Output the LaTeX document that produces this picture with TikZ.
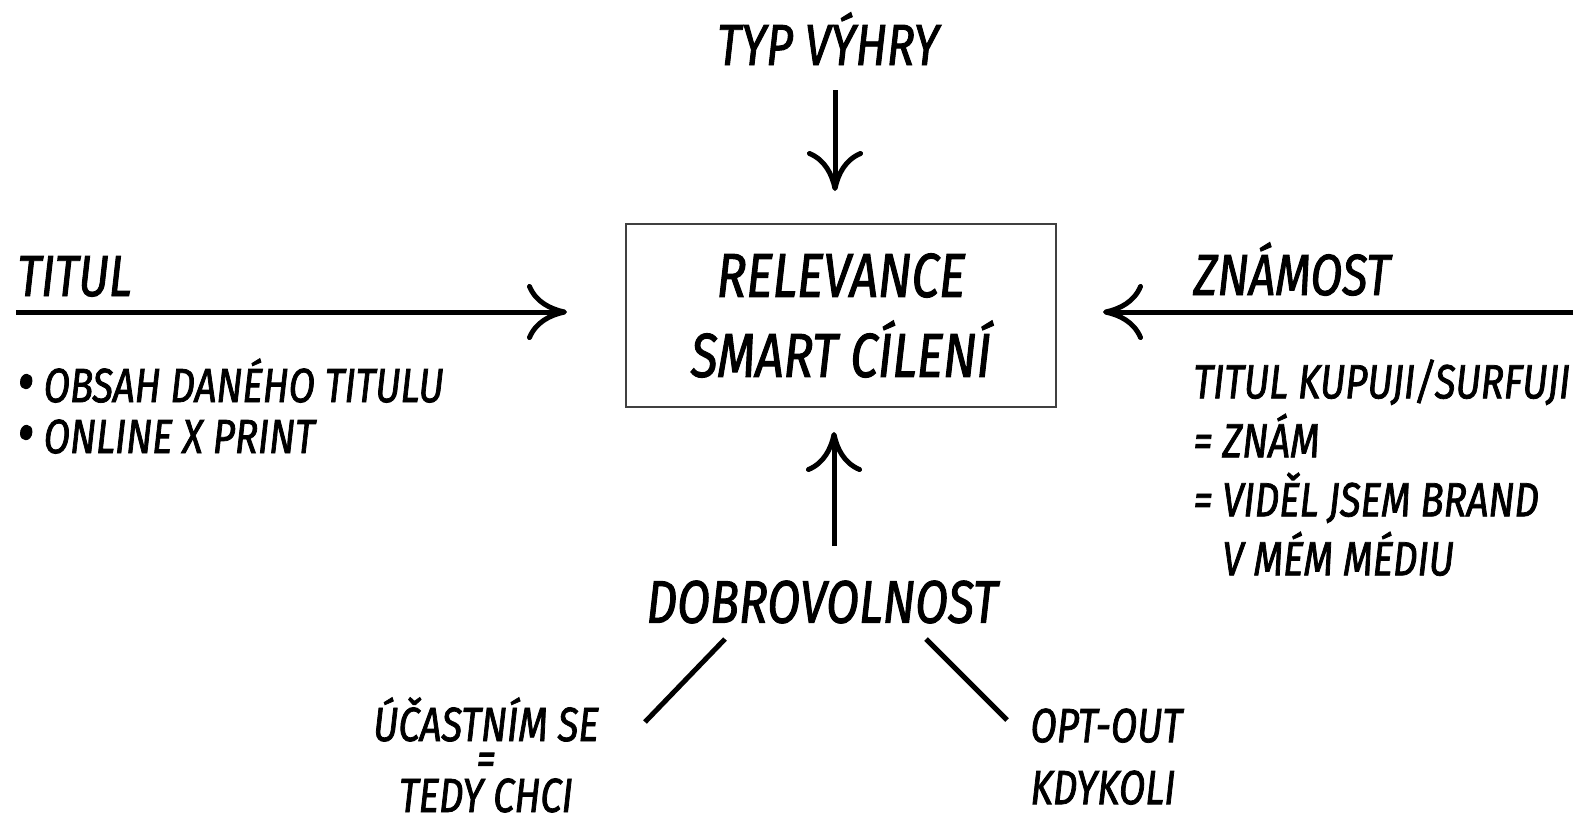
\documentclass[tikz,border=0pt]{standalone}
\usepackage{fontspec}
\setmainfont{Fira Sans}[FakeStretch=0.8, ItalicFeatures={FakeBold=1.6}]
\usetikzlibrary{arrows.meta}
\newcommand{\bigdot}{\raisebox{-0.05ex}{\fontsize{32}{0}\selectfont\textbullet}}

\begin{document}
\begin{tikzpicture}[x=0.5pt, y=-0.5pt, line width=2.5pt,
  arr/.style={-{Computer Modern Rightarrow[length=20pt,width=28pt]}},
  big/.style={font=\fontsize{29}{40}\selectfont\itshape, inner sep=0pt},
  small/.style={font=\fontsize{24}{29}\selectfont\itshape, inner sep=0pt},
  frame/.style={draw=black!75, line width=1pt, minimum width=215pt, minimum height=91.5pt, align=center}]
\useasboundingbox (0,0) rectangle (1596,816);
\node[frame, big, font=\fontsize{31}{40}\selectfont\itshape] (box) at (841,315.5) {RELEVANCE\\SMART CÍLENÍ};
\node[big, anchor=base] (typ) at (828,65) {TYP VÝHRY};
\node[big, anchor=base west] (titul) at (15,296) {TITUL};
\node[big, anchor=base west] (znamost) at (1191,295) {ZNÁMOST};
\node[big, font=\fontsize{30}{40}\selectfont\itshape] (dobro) at (822,602) {DOBROVOLNOST};
\node[small, anchor=north west, align=left, font=\fontsize{24}{25.5}\selectfont\itshape] (obsah) at (15,356)
  {\bigdot\ OBSAH DANÉHO TITULU\\\bigdot\ ONLINE X PRINT};
\node[small, anchor=north west, align=left, font=\fontsize{24}{29.5}\selectfont\itshape] (znam) at (1191,357)
  {TITUL KUPUJI/SURFUJI\\= ZNÁM\\= VIDĚL JSEM BRAND\\\phantom{= }V MÉM MÉDIU};
\node[small, anchor=base] (ucast) at (486,741) {ÚČASTNÍM SE};
\node[small] (rovno) at (486,764) {=};
\node[small, anchor=base] (tedy) at (486,812) {TEDY CHCI};
\node[small, anchor=north west, align=left, font=\fontsize{24}{31}\selectfont\itshape] (opt) at (1028,706)
  {OPT-OUT\\KDYKOLI};
% free ends of the connectors
\coordinate (typend) at (835,90);
\coordinate (titulend) at (16,312);
\coordinate (znamend) at (1573,312);
\coordinate (dobroend) at (834,546);
\coordinate (leftA) at (725,639);
\coordinate (leftB) at (645,722);
\coordinate (rightA) at (926,639);
\coordinate (rightB) at (1007,720);
\draw[arr, shorten >=16pt] (typend) -- (typend |- box.north);
\draw[arr, shorten >=29pt] (titulend) -- (titulend -| box.west);
\draw[arr, shorten >=23pt] (znamend) -- (znamend -| box.east);
\draw[arr, shorten >=12pt] (dobroend) -- (dobroend |- box.south);
\draw (leftA) -- (leftB);
\draw (rightA) -- (rightB);
\end{tikzpicture}
\end{document}
